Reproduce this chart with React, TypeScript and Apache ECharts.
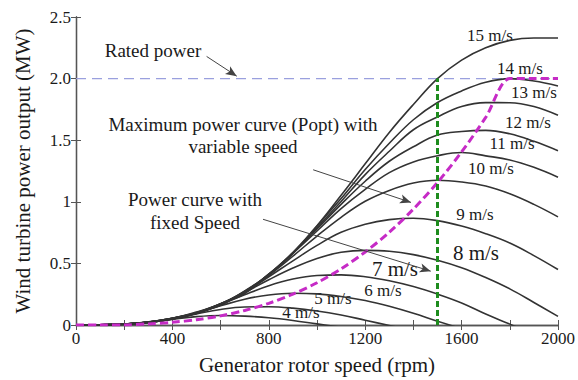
import React, { useEffect, useRef } from 'react';
import * as echarts from 'echarts';

// Generator rotor speed samples (rpm)
const rpm = [0, 100, 200, 300, 400, 500, 600, 700, 800, 900, 1000, 1100, 1200, 1300, 1400, 1500, 1600, 1700, 1800, 1900, 2000];

// Fixed-speed power curves (MW)
const p4 = [0, 0.001, 0.006, 0.021, 0.046, 0.068, 0.077, 0.072, 0.059, 0.037, 0.009, -0.018];
const p5 = [0, 0.001, 0.007, 0.020, 0.050, 0.090, 0.126, 0.146, 0.148, 0.137, 0.114, 0.081, 0.039, -0.004, -0.046];
const p6 = [0, 0.001, 0.006, 0.021, 0.050, 0.098, 0.156, 0.209, 0.244, 0.258, 0.253, 0.232, 0.199, 0.152, 0.095, 0.030, -0.030];
const p7 = [0, 0.001, 0.007, 0.021, 0.048, 0.098, 0.167, 0.246, 0.319, 0.373, 0.402, 0.407, 0.392, 0.359, 0.312, 0.251, 0.179, 0.089, 0.007, -0.076];
const p8 = [0, 0.001, 0.007, 0.023, 0.049, 0.093, 0.167, 0.264, 0.367, 0.462, 0.540, 0.590, 0.606, 0.599, 0.571, 0.526, 0.465, 0.385, 0.293, 0.183, 0.070];
const p9 = [0, 0.001, 0.008, 0.022, 0.049, 0.096, 0.168, 0.265, 0.392, 0.521, 0.646, 0.752, 0.818, 0.855, 0.867, 0.847, 0.803, 0.741, 0.665, 0.563, 0.450];
const p10 = [0, 0.002, 0.008, 0.021, 0.052, 0.098, 0.160, 0.273, 0.404, 0.559, 0.722, 0.874, 1.004, 1.092, 1.152, 1.175, 1.161, 1.128, 1.065, 0.979, 0.878];
const p11 = [0, 0.002, 0.008, 0.022, 0.055, 0.098, 0.168, 0.276, 0.409, 0.582, 0.763, 0.945, 1.101, 1.237, 1.324, 1.374, 1.400, 1.373, 1.340, 1.280, 1.200];
const p12 = [0, 0.002, 0.008, 0.023, 0.055, 0.095, 0.172, 0.270, 0.413, 0.588, 0.779, 0.979, 1.167, 1.329, 1.447, 1.542, 1.571, 1.580, 1.552, 1.491, 1.415];
const p13 = [0, 0.002, 0.008, 0.025, 0.055, 0.098, 0.172, 0.255, 0.413, 0.582, 0.790, 1.003, 1.221, 1.410, 1.585, 1.689, 1.774, 1.805, 1.804, 1.773, 1.702];
const p14 = [0, 0.002, 0.008, 0.025, 0.055, 0.101, 0.173, 0.262, 0.412, 0.580, 0.804, 1.026, 1.262, 1.475, 1.666, 1.806, 1.900, 1.970, 2.000, 1.980, 1.940];
const p15 = [0, 0.002, 0.007, 0.026, 0.053, 0.105, 0.171, 0.270, 0.403, 0.589, 0.806, 1.053, 1.308, 1.563, 1.790, 2.000, 2.150, 2.250, 2.310, 2.330, 2.330];

// Maximum power curve (Popt) with variable speed
const popt = [0, 0, 0.001, 0.009, 0.022, 0.043, 0.074, 0.118, 0.176, 0.25, 0.343, 0.456, 0.593, 0.753, 0.941, 1.157, 1.405, 1.685, 2.0, 2.0, 2.0];

const windLabels = ['4 m/s', '5 m/s', '6 m/s', '7 m/s', '8 m/s', '9 m/s', '10 m/s', '11 m/s', '12 m/s', '13 m/s', '14 m/s', '15 m/s'];
const curves = [p4, p5, p6, p7, p8, p9, p10, p11, p12, p13, p14, p15];

const ratedPower = 2.0;
const ratedSpeed = 1500;
const yTickText: Record<string, string> = { '0': '0', '0.5': '0.5', '1': '1', '1.5': '1.5', '2': '2.0', '2.5': '2.5' };

// layout of the texts (pixels)
const windLabelPos: [number, number, number][] = [
  [301, 312, 17], [333, 298, 17], [383, 290, 17], [395, 269, 21], [476, 253, 21], [475, 214, 17],
  [491, 168, 17], [512, 143, 17], [528, 122, 17], [534, 92, 17], [520, 68, 17], [490, 35, 17],
];
const annotations: [string, number, number][] = [
  ['Rated power', 153, 50],
  ['Maximum power curve (Popt) with', 243, 124],
  ['variable speed', 243, 146],
  ['Power curve with', 195, 199],
  ['fixed Speed', 195, 222],
];
const arrows: [number, number, number, number][] = [
  [542, 2.18, 667, 2.02],
  [984, 1.26, 1390, 0.995],
  [776, 0.858, 1472, 0.437],
];

const FONT = '"Liberation Serif", "Times New Roman", serif';

export default function App() {
  const ref = useRef<HTMLDivElement>(null);
  useEffect(() => {
    const chart = echarts.init(ref.current!, null, { renderer: 'svg' });
    const axisLine = { show: true, lineStyle: { color: '#555', width: 1.3 } };
    const series: any[] = [];
    series.push({
      type: 'line',
      data: [[0, ratedPower], [2000, ratedPower]],
      symbol: 'none',
      lineStyle: { color: '#9aa0de', width: 1.4, type: [10, 6] },
      z: 1,
      markLine: {
        silent: true,
        symbol: ['none', 'arrow'],
        symbolSize: [7, 11],
        label: { show: false },
        lineStyle: { color: '#444', width: 1, type: 'solid' },
        data: arrows.map(([x1, y1, x2, y2]) => [{ coord: [x1, y1] }, { coord: [x2, y2] }]),
      },
    });
    curves.forEach((c, i) => {
      series.push({
        type: 'line',
        name: windLabels[i],
        data: c.map((v, j) => [rpm[j], v]),
        symbol: 'none',
        smooth: 0.4,
        lineStyle: { color: '#333', width: 1.6 },
        z: 2,
      });
    });
    series.push({
      type: 'line',
      data: popt.map((v, j) => [rpm[j], v]),
      symbol: 'none',
      smooth: 0.3,
      lineStyle: { color: '#c62bc6', width: 3, type: [8, 4] },
      z: 3,
    });
    series.push({
      type: 'line',
      data: [[ratedSpeed, 0], [ratedSpeed, ratedPower]],
      symbol: 'none',
      lineStyle: { color: '#1e8c1e', width: 3, type: [6, 3] },
      z: 4,
    });

    const graphic: any[] = [];
    annotations.forEach(([t, x, y]) => {
      graphic.push({
        type: 'text', x, y, silent: true,
        style: { text: t, font: `19px ${FONT}`, fill: '#1a1a1a', textAlign: 'center', textVerticalAlign: 'middle' },
      });
    });
    windLabels.forEach((t, i) => {
      const [x, y, fs] = windLabelPos[i];
      graphic.push({
        type: 'text', x, y, silent: true,
        style: { text: t, font: `${fs}px ${FONT}`, fill: '#1a1a1a', textAlign: 'center', textVerticalAlign: 'middle' },
      });
    });

    chart.setOption({
      animation: false,
      backgroundColor: '#fff',
      grid: { left: 76, right: 10, top: 17, bottom: 54 },
      xAxis: [
        {
          type: 'value', min: 0, max: 2000, interval: 400, position: 'bottom',
          name: 'Generator rotor speed (rpm)', nameLocation: 'middle', nameGap: 29,
          nameTextStyle: { fontFamily: FONT, fontSize: 21, color: '#1a1a1a' },
          axisLine, axisTick: { inside: true, length: 5, lineStyle: { color: '#555' } },
          minorTick: { show: true, splitNumber: 2, length: 5, lineStyle: { color: '#555' } },
          axisLabel: { fontFamily: FONT, fontSize: 17, color: '#1a1a1a', margin: 5, formatter: (v: number) => String(v) },
          splitLine: { show: false },
        },
        {
          type: 'value', min: 0, max: 2000, interval: 400, position: 'top',
          axisLine, axisTick: { inside: true, length: 5, lineStyle: { color: '#555' } },
          minorTick: { show: true, splitNumber: 2, length: 5, lineStyle: { color: '#555' } },
          axisLabel: { show: false }, splitLine: { show: false },
        },
      ],
      yAxis: [
        {
          type: 'value', min: 0, max: 2.5, interval: 0.5, position: 'left',
          name: 'Wind turbine power output (MW)', nameLocation: 'middle', nameGap: 43,
          nameTextStyle: { fontFamily: FONT, fontSize: 21, color: '#1a1a1a' },
          axisLine, axisTick: { inside: true, length: 5, lineStyle: { color: '#555' } },
          axisLabel: {
            fontFamily: FONT, fontSize: 17, color: '#1a1a1a', margin: 5,
            formatter: (v: number) => yTickText[String(v)] ?? String(v),
          },
          splitLine: { show: false },
        },
        {
          type: 'value', min: 0, max: 2.5, interval: 0.5, position: 'right',
          axisLine, axisTick: { inside: true, length: 5, lineStyle: { color: '#555' } },
          axisLabel: { show: false }, splitLine: { show: false },
        },
      ],
      series,
      graphic,
    });
    return () => chart.dispose();
  }, []);
  return <div ref={ref} style={{ position: 'fixed', left: 0, top: 0, width: 578, height: 380, background: '#fff' }} />;
}
